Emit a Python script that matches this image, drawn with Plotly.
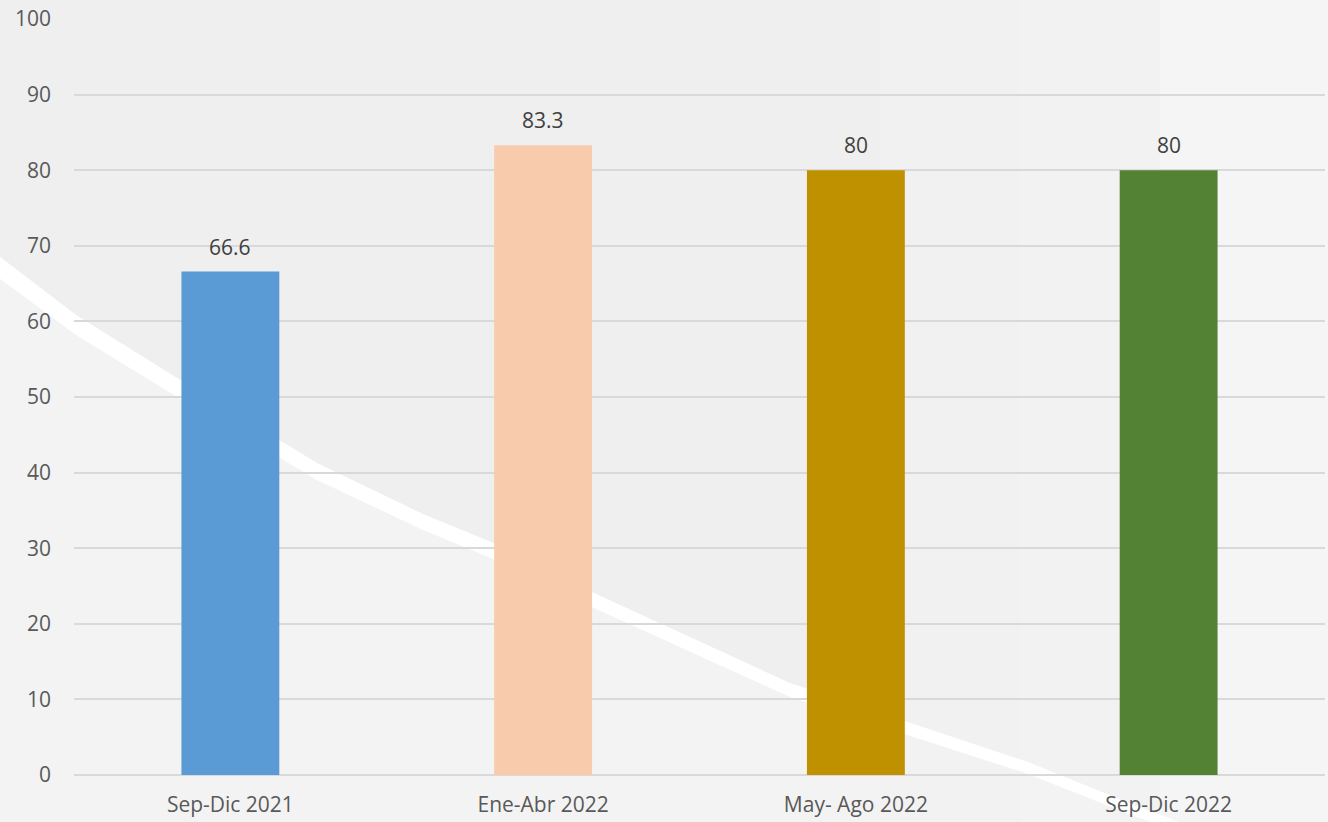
import plotly.graph_objects as go

categories = ["Sep-Dic 2021", "Ene-Abr 2022", "May- Ago 2022", "Sep-Dic 2022"]
values = [66.6, 83.3, 80, 80]
labels = ["66.6", "83.3", "80", "80"]
colors = ["#5B9BD5", "#F8CBAD", "#BF9000", "#548235"]
y_ticks = [0, 10, 20, 30, 40, 50, 60, 70, 80, 90, 100]

W, H = 1328, 822
L, R, T, B = 74, 3, 19, 47
PW, PH = W - L - R, H - T - B

def px(x, y):
    return ((x - L) / PW, (H - B - y) / PH)

# decorative background swoosh (pixel points: x, y-centre, thickness)
swoosh = [(-5, 264, 22), (76, 325, 20), (178, 388, 19), (318, 472, 17), (423, 522, 16),
          (491, 550, 16), (593, 600, 15), (790, 690, 14), (906, 728, 13),
          (1028, 768, 12), (1133, 810, 11), (1200, 835, 10)]

def poly(points):
    pts = [px(x, y) for x, y in points]
    d = "M %f,%f" % pts[0]
    for p in pts[1:]:
        d += " L %f,%f" % p
    return d + " Z"

upper = [(x, y - h / 2) for x, y, h in swoosh]
lower = [(x, y + h / 2) for x, y, h in swoosh]
centre = [(x, y) for x, y, h in swoosh]

fig = go.Figure()
fig.add_trace(go.Bar(
    x=categories, y=values, marker=dict(color=colors, line=dict(width=0)),
    width=0.313, hoverinfo="skip", showlegend=False,
))

shapes = []
# lighter area below swoosh
shapes.append(dict(type="path", xref="paper", yref="paper", layer="below",
                   path=poly(centre + [(1200, 840), (-5, 840)]),
                   fillcolor="#F3F3F3", line=dict(width=0)))
# lighter right side
for i, c in enumerate(["#F2F2F2", "#F4F4F4", "#F6F6F6"]):
    x0 = 880 + i * 140
    x0p, _ = px(x0, 0)
    x1p, _ = px(W + 5, 0)
    y0p = px(0, H + 5)[1]
    y1p = px(0, -5)[1]
    shapes.append(dict(type="rect", xref="paper", yref="paper", layer="below",
                       x0=x0p, x1=x1p, y0=y0p, y1=y1p,
                       fillcolor=c, opacity=0.6, line=dict(width=0)))
# white swoosh band
shapes.append(dict(type="path", xref="paper", yref="paper", layer="below",
                   path=poly(upper + lower[::-1]),
                   fillcolor="#FFFFFF", line=dict(width=0)))

annotations = []
for c, v, t in zip(categories, values, labels):
    annotations.append(dict(x=c, y=v, xref="x", yref="y", text=t, showarrow=False,
                            yanchor="middle", yshift=25,
                            font=dict(family="Open Sans", size=21, color="#404040")))

fig.update_layout(
    width=W, height=H,
    margin=dict(l=L, r=R, t=T, b=B),
    paper_bgcolor="#EFEFEF",
    plot_bgcolor="rgba(0,0,0,0)",
    bargap=0.687,
    shapes=shapes,
    annotations=annotations,
    xaxis=dict(
        showgrid=False, showline=False, zeroline=False, ticks="",
        ticklabelstandoff=15,
        tickfont=dict(family="Open Sans", size=21, color="#595959"),
        fixedrange=True,
    ),
    yaxis=dict(
        range=[0, 100], tickvals=y_ticks, showgrid=True,
        gridcolor="#D9D9D9", gridwidth=1.5, zeroline=True, zerolinecolor="#D9D9D9",
        zerolinewidth=1.5, showline=False, ticks="", ticklabelstandoff=22,
        tickfont=dict(family="Open Sans", size=21, color="#595959"),
        fixedrange=True,
    ),
)

fig.write_html("out.html", config={"displayModeBar": False},
               post_script="document.body.style.margin='0';document.body.style.padding='0';")
